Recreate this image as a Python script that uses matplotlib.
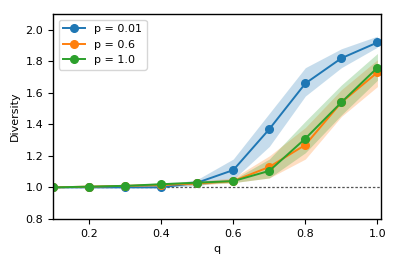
import numpy as np
import matplotlib
matplotlib.use("Agg")
import matplotlib.pyplot as plt

q = [0.1, 0.2, 0.3, 0.4, 0.5, 0.6, 0.7, 0.8, 0.9, 1.0]

# mean diversity per p
div_p001 = [1.00, 1.00, 1.00, 1.00, 1.03, 1.11, 1.37, 1.66, 1.82, 1.92]
div_p06 = [1.00, 1.005, 1.01, 1.015, 1.025, 1.04, 1.13, 1.27, 1.54, 1.73]
div_p1 = [1.00, 1.005, 1.01, 1.02, 1.03, 1.04, 1.105, 1.31, 1.54, 1.76]

# shaded bands (low / high)
lo_p001 = [1.00, 1.00, 1.00, 1.00, 1.01, 1.05, 1.26, 1.58, 1.76, 1.89]
hi_p001 = [1.00, 1.005, 1.01, 1.01, 1.05, 1.18, 1.47, 1.76, 1.88, 1.96]
lo_p06 = [1.00, 1.00, 1.005, 1.01, 1.015, 1.03, 1.06, 1.18, 1.45, 1.64]
hi_p06 = [1.00, 1.01, 1.015, 1.025, 1.04, 1.06, 1.20, 1.38, 1.62, 1.81]
lo_p1 = [1.00, 1.00, 1.005, 1.01, 1.02, 1.03, 1.06, 1.22, 1.46, 1.68]
hi_p1 = [1.00, 1.01, 1.015, 1.03, 1.04, 1.05, 1.18, 1.42, 1.65, 1.85]

labels = ["p = 0.01", "p = 0.6", "p = 1.0"]
means = [div_p001, div_p06, div_p1]
lows = [lo_p001, lo_p06, lo_p1]
highs = [hi_p001, hi_p06, hi_p1]
colors = ["tab:blue", "tab:orange", "tab:green"]

fig, ax = plt.subplots(figsize=(3.99, 2.66), dpi=100)

for m, lo, hi, c, lab in zip(means, lows, highs, colors, labels):
    ax.fill_between(q, lo, hi, color=c, alpha=0.25, lw=0)
    ax.plot(q, m, "-o", color=c, label=lab, markersize=5.5, lw=1.4)

ax.axhline(1.0, color="#555555", ls="--", lw=0.9, dashes=(2, 1.5), zorder=0)

ax.set_xlim(0.1, 1.01)
ax.set_ylim(0.8, 2.1)
ax.set_xticks([0.2, 0.4, 0.6, 0.8, 1.0])
ax.set_yticks([0.8, 1.0, 1.2, 1.4, 1.6, 1.8, 2.0])
ax.tick_params(labelsize=8)
for s in ax.spines.values():
    s.set_linewidth(1.0)
ax.set_xlabel("q", fontsize=8)
ax.set_ylabel("Diversity", fontsize=8)
ax.legend(loc="upper left", fontsize=8)

fig.subplots_adjust(left=0.133, right=0.955, top=0.947, bottom=0.177)
fig.savefig("out.png", dpi=100)
